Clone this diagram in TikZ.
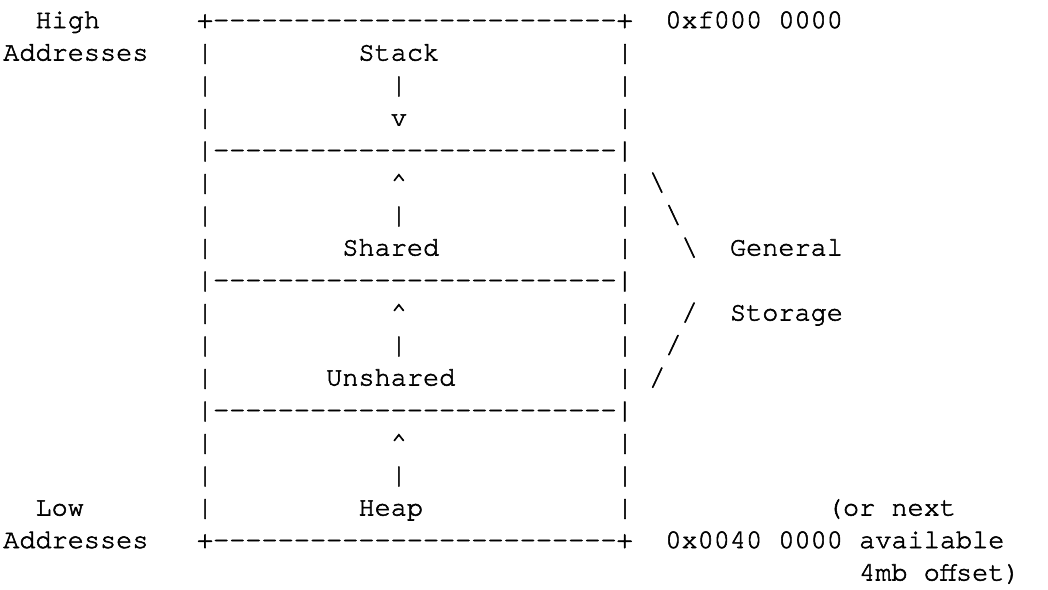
\documentclass[tikz,border=0pt]{standalone}
\usepackage{fontspec}
\setmonofont{texgyrecursor}[Extension=.otf, UprightFont=*-regular, FakeBold=2]
\newcommand\dashrun{-------------------------}
\begin{document}
\begin{tikzpicture}[x=1pt,y=1pt,
  ascii/.style={font=\ttfamily\fontsize{26.9}{32}\selectfont,
    anchor=base west, inner sep=0pt, outer sep=0pt, text=black}]
% character cell: 16.15 wide, 32.5 high
\newcommand\cell[4]{\node[ascii] (#1) at ({3.2+#2*16.15},{-28-#3*32.5}) {#4};}
\useasboundingbox (0,0) rectangle (1048,-589);
% left labels
\cell{hi}{2}{0}{High}
\cell{hiaddr}{0}{1}{Addresses}
\cell{lo}{2}{15}{Low}
\cell{loaddr}{0}{16}{Addresses}
% box top and bottom
\cell{top}{12}{0}{+\dashrun+}
\cell{bot}{12}{16}{+\dashrun+}
% dividers
\cell{divA}{12}{4}{|\dashrun|}
\cell{divB}{12}{8}{|\dashrun|}
\cell{divC}{12}{12}{|\dashrun|}
% side walls
\foreach \r in {1,2,3,5,6,7,9,10,11,13,14,15}{
  \cell{wl\r}{12}{\r}{|}
  \cell{wr\r}{38}{\r}{|}
}
% segment labels and growth marks
\cell{stack}{22}{1}{Stack}
\cell{sbar}{24}{2}{|}
\cell{sv}{24}{3}{v}
\cell{shup}{24}{5}{\textasciicircum}
\cell{shbar}{24}{6}{|}
\cell{shared}{21}{7}{Shared}
\cell{unup}{24}{9}{\textasciicircum}
\cell{unbar}{24}{10}{|}
\cell{unshared}{20}{11}{Unshared}
\cell{hpup}{24}{13}{\textasciicircum}
\cell{hpbar}{24}{14}{|}
\cell{heap}{22}{15}{Heap}
% brace for general storage
\cell{bsA}{40}{5}{\textbackslash}
\cell{bsB}{41}{6}{\textbackslash}
\cell{bsC}{42}{7}{\textbackslash}
\cell{gen}{45}{7}{General}
\cell{slA}{42}{9}{/}
\cell{slB}{41}{10}{/}
\cell{slC}{40}{11}{/}
\cell{stor}{45}{9}{Storage}
% addresses
\cell{hiadr}{41}{0}{0xf000 0000}
\cell{loadr}{41}{16}{0x0040 0000}
\cell{noteA}{51}{15}{(or next}
\cell{noteB}{53}{16}{available}
\cell{noteC}{53}{17}{4mb offset)}
\end{tikzpicture}
\end{document}
